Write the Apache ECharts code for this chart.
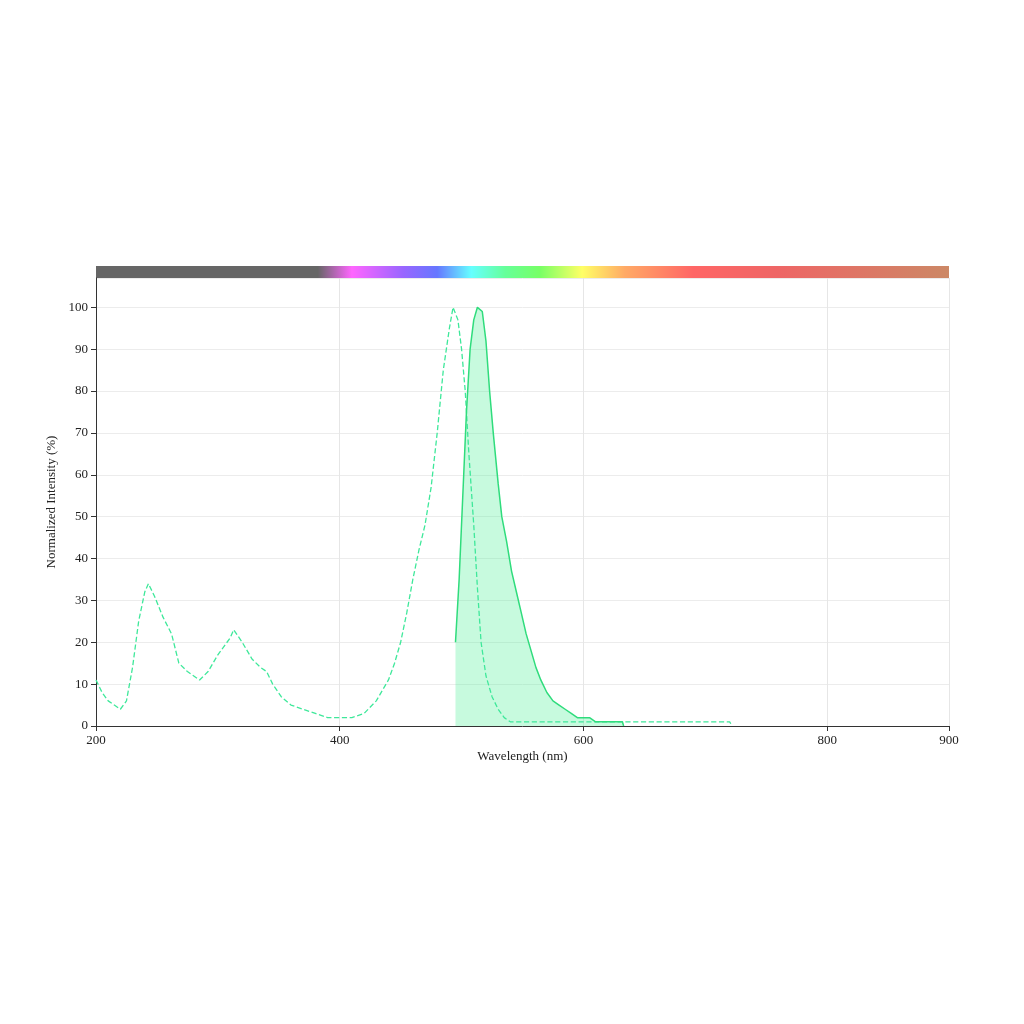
<!DOCTYPE html><html><head><meta charset="utf-8"><script src="https://cdn.jsdelivr.net/npm/echarts@6/dist/echarts.min.js"></script></head><body style="margin:0"><div id="c" style="width:1024px;height:1024px"></div><script>
const exWl=[200,205,210,215,220,225,230,235,240,243,248,255,262,268,275,285,292,300,310,313,320,328,335,340,345,352,360,370,380,390,410,420,430,440,445,450,455,460,465,470,475,480,485,490,493,497,500,503,506,510,513,516,520,525,530,535,540,600,650,700,720,722];
const exVal=[11,8,6,5,4,6,14,25,32,34,31,26,22,15,13,11,13,17,21,23,20,16,14,13,10,7,5,4,3,2,2,3,6,11,15,20,27,35,42,48,57,70,85,95,100,97,90,80,65,48,33,20,12,7,4,2,1,1,1,1,1,0];
const emWl=[495,498,501,504,507,510,513,517,520,523,526,530,533,537,541,545,549,553,557,561,565,570,575,580,585,590,595,600,605,610,615,632,633];
const emVal=[20,35,55,75,90,97,100,99,92,80,70,58,50,44,37,32,27,22,18,14,11,8,6,5,4,3,2,2,2,1,1,1,0];
const xTicks=[200,400,600,800,900];
const ch=echarts.init(document.getElementById('c'));
const f='"Liberation Serif", serif';
ch.setOption({
 animation:false,
 grid:{left:96,right:75,top:278,bottom:298},
 graphic:[{type:'rect',left:96,top:266,shape:{width:853,height:12},style:{fill:new echarts.graphic.LinearGradient(0,0,1,0,[
  {offset:0,color:'#666'},{offset:0.26,color:'#666'},{offset:0.3,color:'#f6f'},{offset:0.36,color:'#96f'},{offset:0.4,color:'#67f'},{offset:0.44,color:'#6ff'},{offset:0.48,color:'#6f9'},{offset:0.52,color:'#7f6'},{offset:0.57,color:'#ff6'},{offset:0.62,color:'#fa6'},{offset:0.7,color:'#f66'},{offset:0.8,color:'#e66'},{offset:1,color:'#c86'}])}}],
 xAxis:{type:'value',min:200,max:900,interval:200,name:'Wavelength (nm)',nameLocation:'middle',nameGap:24,nameTextStyle:{fontFamily:f,fontSize:13,color:'#222'},
  axisLine:{lineStyle:{color:'#333'}},axisTick:{show:true,lineStyle:{color:'#333'}},axisLabel:{fontFamily:f,fontSize:13,color:'#222',showMaxLabel:true,customValues:xTicks},
  splitLine:{show:true,lineStyle:{color:'#e6e6e6'}}},
 yAxis:{type:'value',min:0,max:107,interval:10,name:'Normalized Intensity (%)',nameLocation:'middle',nameGap:34,nameTextStyle:{fontFamily:f,fontSize:13,color:'#222'},
  axisLine:{show:true,lineStyle:{color:'#333'}},axisTick:{show:true,lineStyle:{color:'#333'}},axisLabel:{fontFamily:f,fontSize:13,color:'#222',showMaxLabel:false},
  splitLine:{show:true,lineStyle:{color:'#ececec'}}},
 series:[
  {type:'line',data:exWl.map((w,i)=>[w,exVal[i]]),symbol:'none',lineStyle:{color:'#3ee89a',width:1.3,type:'dashed'}},
  {type:'line',data:emWl.map((w,i)=>[w,emVal[i]]),symbol:'none',lineStyle:{color:'#2fdc7c',width:1.5},areaStyle:{color:'rgba(80,240,150,0.45)',origin:'start'}}
 ]
});
</script></body></html>
